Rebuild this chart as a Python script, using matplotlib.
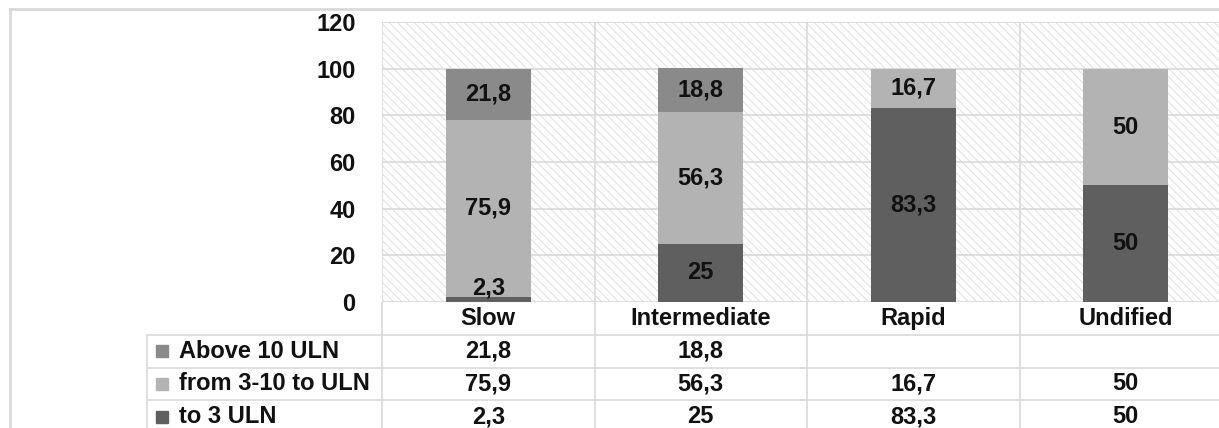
import matplotlib

matplotlib.use("Agg")

import matplotlib.pyplot as plt
from matplotlib.lines import Line2D
from matplotlib.patches import Rectangle

categories = ["Slow", "Intermediate", "Rapid", "Undified"]
series_names = ["Above 10 ULN", "from 3-10 to ULN", "to 3 ULN"]
above_10 = [21.8, 18.8, None, None]
from_3_10 = [75.9, 56.3, 16.7, 50]
to_3 = [2.3, 25, 83.3, 50]
y_ticks = [0, 20, 40, 60, 80, 100, 120]

colors = {"Above 10 ULN": "#8a8a8a", "from 3-10 to ULN": "#b3b3b3", "to 3 ULN": "#5f5f5f"}
grid_color = "#d9d9d9"
fs = 17

plt.rcParams["font.family"] = ["Liberation Sans", "DejaVu Sans"]
plt.rcParams["font.weight"] = "bold"
plt.rcParams["hatch.linewidth"] = 0.6

W, H = 1219, 428
fig = plt.figure(figsize=(W / 100, H / 100), dpi=100)

# pixel layout of the plot area
px_left, px_top, px_bottom = 382, 22, 302
slot_px = 212.5


def fmt(v):
    if v is None:
        return ""
    if float(v).is_integer():
        return str(int(v))
    return f"{v:.1f}".replace(".", ",")


ax = fig.add_axes([px_left / W, (H - px_bottom) / H, (W - px_left) / W, (px_bottom - px_top) / H])
x_right = -0.5 + (W - px_left) / slot_px
ax.set_xlim(-0.5, x_right)
ax.set_ylim(0, 120)

# hatched plot background
ax.add_patch(Rectangle((0, 0), 1, 1, transform=ax.transAxes, facecolor="white",
                       edgecolor="#dadada", hatch="\\\\\\\\", linewidth=0, zorder=0))
for y in y_ticks:
    ax.axhline(y, color=grid_color, linewidth=1.2, zorder=1)
for i in range(len(categories)):
    ax.axvline(i - 0.5, color=grid_color, linewidth=1.2, zorder=1)

x = list(range(len(categories)))
stack = [("to 3 ULN", to_3), ("from 3-10 to ULN", from_3_10), ("Above 10 ULN", above_10)]
bottoms = [0.0] * len(categories)
for name, vals in stack:
    heights = [v if v is not None else 0 for v in vals]
    ax.bar(x, heights, width=0.4, bottom=bottoms, color=colors[name], linewidth=0, zorder=2)
    for i, v in enumerate(vals):
        if v is None:
            continue
        yc = bottoms[i] + v / 2
        if v < 5:
            yc = bottoms[i] + 6
        ax.text(i, yc, fmt(v), ha="center", va="center", fontsize=fs, fontweight="bold",
                color="#111111", zorder=3)
    bottoms = [b + h for b, h in zip(bottoms, heights)]

ax.set_yticks(y_ticks)
ax.set_yticklabels([str(t) for t in y_ticks], fontsize=fs, fontweight="bold", color="#111111")
ax.tick_params(axis="y", length=0, pad=19)
ax.set_xticks([])
for s in ax.spines.values():
    s.set_visible(False)

# data table under the plot, sharing the category scale
tab_left = 147
tab = fig.add_axes([tab_left / W, 0, (W - tab_left) / W, (H - px_bottom) / H])
row_px = 32.75
tab.set_xlim(-0.5 - (px_left - tab_left) / slot_px, x_right)
tab.set_ylim((H - px_bottom) / row_px, 0)
tab.axis("off")
x_lab = tab.get_xlim()[0]

for i, cat in enumerate(categories):
    tab.text(i, 0.5, cat, ha="center", va="center", fontsize=fs, fontweight="bold", color="#111111")
    tab.plot([i - 0.5, i - 0.5], [0, 5], color=grid_color, linewidth=1.2)
for r in range(1, 4):
    tab.plot([x_lab, x_right], [r, r], color=grid_color, linewidth=1.2)
tab.plot([x_lab, x_lab], [1, 5], color=grid_color, linewidth=1.2, clip_on=False)

rows = [above_10, from_3_10, to_3]
for r, (name, vals) in enumerate(zip(series_names, rows), start=1):
    tab.plot([x_lab + 0.07], [r + 0.5], marker="s", markersize=9, color=colors[name],
             linestyle="none")
    tab.text(x_lab + 0.15, r + 0.5, name, ha="left", va="center", fontsize=fs,
             fontweight="bold", color="#111111")
    for i, v in enumerate(vals):
        tab.text(i, r + 0.5, fmt(v), ha="center", va="center", fontsize=fs,
                 fontweight="bold", color="#111111")

# outer chart frame (partially cropped)
fig.add_artist(Line2D([10 / W, 10 / W], [0, 1 - 9 / H], color="#d9d9d9", linewidth=2))
fig.add_artist(Line2D([10 / W, 1], [1 - 9 / H, 1 - 9 / H], color="#d9d9d9", linewidth=2))

fig.savefig("out.png", dpi=100)
